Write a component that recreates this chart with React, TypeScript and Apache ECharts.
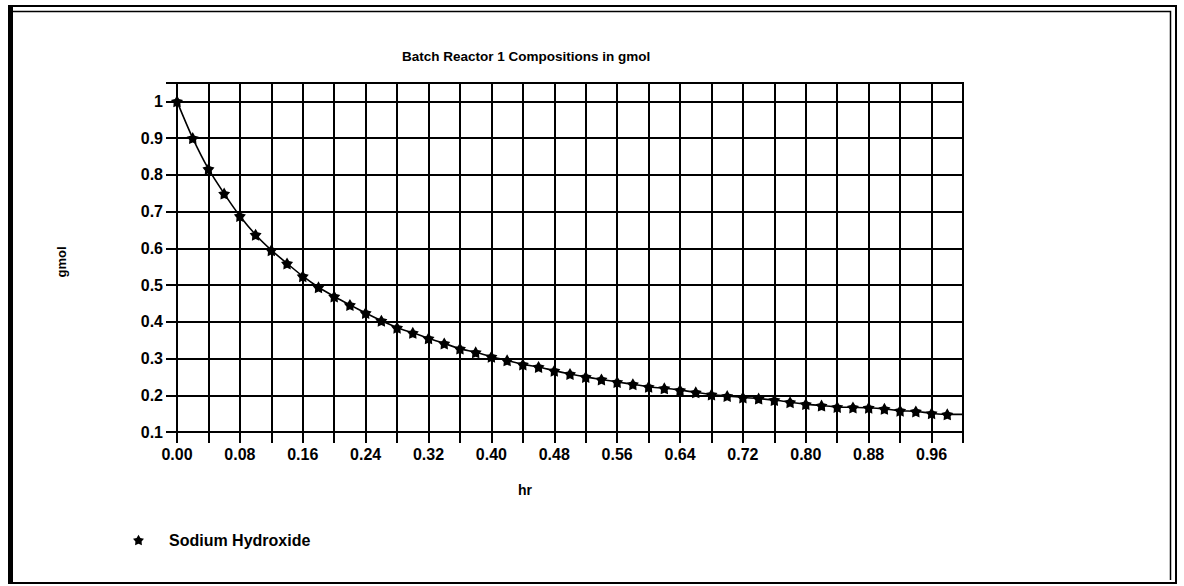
import React, { useEffect, useRef } from "react";
import * as echarts from "echarts";

const titleText = "Batch Reactor 1 Compositions in gmol";
const xAxisName = "hr";
const yAxisName = "gmol";
const seriesName = "Sodium Hydroxide";

const hours = [
  0.0, 0.02, 0.04, 0.06, 0.08, 0.1, 0.12, 0.14, 0.16, 0.18,
  0.2, 0.22, 0.24, 0.26, 0.28, 0.3, 0.32, 0.34, 0.36, 0.38,
  0.4, 0.42, 0.44, 0.46, 0.48, 0.5, 0.52, 0.54, 0.56, 0.58,
  0.6, 0.62, 0.64, 0.66, 0.68, 0.7, 0.72, 0.74, 0.76, 0.78,
  0.8, 0.82, 0.84, 0.86, 0.88, 0.9, 0.92, 0.94, 0.96, 0.98, 1.0,
];

const sodiumHydroxide = [
  1.0, 0.9, 0.816, 0.749, 0.688, 0.637, 0.595, 0.559, 0.524, 0.494,
  0.469, 0.446, 0.424, 0.403, 0.384, 0.37, 0.355, 0.341, 0.327, 0.317,
  0.305, 0.295, 0.284, 0.277, 0.267, 0.258, 0.25, 0.243, 0.236, 0.23,
  0.223, 0.219, 0.214, 0.208, 0.202, 0.198, 0.194, 0.191, 0.187, 0.181,
  0.176, 0.172, 0.168, 0.167, 0.166, 0.163, 0.158, 0.156, 0.151, 0.148, 0.148,
];

const STAR =
  "path://M50,0 L66.46,27.35 L97.55,34.55 L76.63,58.65 L79.39,90.45 L50,78 L20.61,90.45 L23.37,58.65 L2.45,34.55 L33.54,27.35 Z";

const FONT = "'Liberation Sans', Arial, sans-serif";

export default function App() {
  const ref = useRef<HTMLDivElement>(null);

  useEffect(() => {
    if (!ref.current) return;
    const chart = echarts.init(ref.current, undefined, { renderer: "svg" });
    const data = hours.map((h, i) => {
      const item: any = { value: [h, sodiumHydroxide[i]] };
      if (i === hours.length - 1) item.symbol = "none";
      return item;
    });
    chart.setOption({
      animation: false,
      backgroundColor: "#ffffff",
      textStyle: { fontFamily: FONT },
      grid: {
        left: 177,
        right: 221,
        top: 83,
        bottom: 154,
        show: true,
        borderColor: "#000",
        borderWidth: 2,
        backgroundColor: "transparent",
      },
      legend: {
        show: true,
        left: 128,
        top: 527,
        icon: STAR,
        itemWidth: 11,
        itemHeight: 11,
        data: [seriesName],
        textStyle: {
          color: "#000",
          fontSize: 16,
          fontWeight: "bold",
          fontFamily: FONT,
          padding: [0, 0, 0, 20],
        },
      },
      xAxis: {
        type: "value",
        min: 0,
        max: 1,
        interval: 0.04,
        axisLine: { show: true, lineStyle: { color: "#000", width: 2 } },
        axisTick: { show: true, length: 11, lineStyle: { color: "#000", width: 2 } },
        splitLine: { show: true, lineStyle: { color: "#000", width: 2 } },
        axisLabel: {
          color: "#000",
          fontSize: 16,
          fontWeight: "bold",
          fontFamily: FONT,
          margin: 14,
          showMaxLabel: true,
          formatter: (v: number) => {
            const idx = Math.round(v / 0.04);
            return idx % 2 === 0 ? v.toFixed(2) : "";
          },
        },
      },
      yAxis: {
        type: "value",
        min: 0.1,
        max: 1.05,
        interval: 0.1,
        axisLine: { show: true, lineStyle: { color: "#000", width: 2 } },
        axisTick: { show: true, length: 11, lineStyle: { color: "#000", width: 2 } },
        splitLine: { show: true, lineStyle: { color: "#000", width: 2 } },
        axisLabel: {
          color: "#000",
          fontSize: 16,
          fontWeight: "bold",
          fontFamily: FONT,
          margin: 14,
          formatter: (v: number) => (v > 1.01 ? "" : String(+v.toFixed(1))),
        },
      },
      series: [
        {
          name: seriesName,
          type: "line",
          data,
          smooth: 0.3,
          symbol: STAR,
          symbolSize: 12,
          showAllSymbol: true,
          lineStyle: { color: "#000", width: 1.6 },
          itemStyle: { color: "#000" },
        },
      ],
      graphic: [
        {
          type: "text",
          left: 402,
          top: 49,
          style: {
            text: titleText,
            fill: "#000",
            font: `bold 13.5px ${FONT}`,
          },
        },
        {
          type: "text",
          x: 61,
          y: 262,
          rotation: Math.PI / 2,
          style: {
            text: yAxisName,
            fill: "#000",
            font: `bold 13px ${FONT}`,
            align: "center",
            verticalAlign: "middle",
          },
        },
        {
          type: "text",
          x: 525,
          y: 490,
          style: {
            text: xAxisName,
            fill: "#000",
            font: `bold 14px ${FONT}`,
            align: "center",
            verticalAlign: "middle",
          },
        },
        {
          type: "rect",
          shape: { x: 9, y: 6, width: 1167, height: 577 },
          style: { fill: "none", stroke: "#000", lineWidth: 2 },
          silent: true,
        },
        {
          type: "line",
          shape: { x1: 11, y1: 6, x2: 11, y2: 583 },
          style: { stroke: "#000", lineWidth: 4 },
          silent: true,
        },
        {
          type: "polyline",
          shape: { points: [[13, 11.5], [1170.5, 11.5], [1170.5, 580]] },
          style: { fill: "none", stroke: "#000", lineWidth: 1.5 },
          silent: true,
        },
      ],
    });
    return () => chart.dispose();
  }, []);

  return (
    <div
      ref={ref}
      style={{ position: "fixed", left: 0, top: 0, width: 1184, height: 586 }}
    />
  );
}
